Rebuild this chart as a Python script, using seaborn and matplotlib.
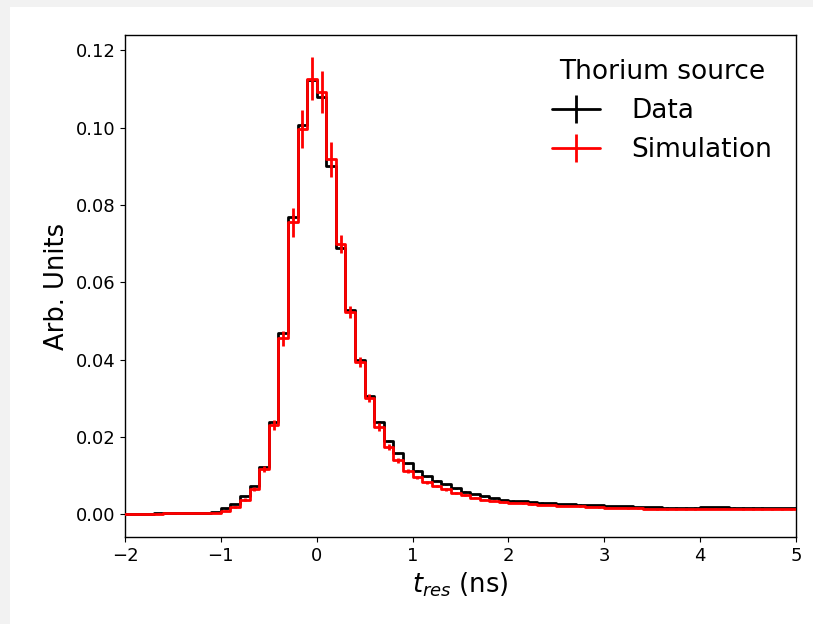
import numpy as np
import pandas as pd
import matplotlib
matplotlib.use("Agg")
import matplotlib.pyplot as plt
from matplotlib.lines import Line2D
from matplotlib.legend_handler import HandlerTuple
from matplotlib.patches import Rectangle
import seaborn as sns

# ---- data (bin centres in ns, 0.1 ns bins) ----
t_centers = [round(-2.05 + 0.1 * k, 2) for k in range(72)]

data_vals = [
    0.0001, 0.0001, 0.0001, 0.00015, 0.0002, 0.0002, 0.00025, 0.0003, 0.0003, 0.0004,
    0.0006, 0.0015, 0.0026, 0.0047, 0.0073, 0.0123, 0.0238, 0.0468, 0.0769, 0.1008,
    0.1124, 0.1080, 0.0900, 0.0689, 0.0529, 0.0399, 0.0307, 0.0238, 0.0190, 0.0158,
    0.0132, 0.0113, 0.0098, 0.0087, 0.0077, 0.0067, 0.0058, 0.0052, 0.0046, 0.0041,
    0.0037, 0.0035, 0.0033, 0.0032, 0.0030, 0.0029, 0.0027, 0.0026, 0.0025, 0.0024,
    0.0023, 0.0022, 0.0021, 0.0020, 0.0019, 0.0019, 0.0018, 0.0017, 0.0017, 0.0017,
    0.0017, 0.0018, 0.0018, 0.0018, 0.0017, 0.0017, 0.0017, 0.0017, 0.0016, 0.0016,
    0.0016, 0.0016,
]
data_errs = [
    0.00002, 0.00002, 0.00002, 0.00002, 0.00002, 0.00002, 0.00002, 0.00002, 0.00002, 0.00003,
    0.00003, 0.00005, 0.00007, 0.0001, 0.00012, 0.00015, 0.0002, 0.0003, 0.0004, 0.0005,
    0.0005, 0.0005, 0.0004, 0.0004, 0.0003, 0.0003, 0.0002, 0.0002, 0.0002, 0.00015,
    0.00015, 0.00012, 0.0001, 0.0001, 0.0001, 0.0001, 0.00008, 0.00008, 0.00007, 0.00007,
    0.00006, 0.00006, 0.00006, 0.00005, 0.00005, 0.00005, 0.00005, 0.00005, 0.00005, 0.00005,
    0.00004, 0.00004, 0.00004, 0.00004, 0.00004, 0.00004, 0.00004, 0.00004, 0.00004, 0.00004,
    0.00004, 0.00004, 0.00004, 0.00004, 0.00004, 0.00004, 0.00004, 0.00004, 0.00004, 0.00004,
    0.00004, 0.00004,
]

sim_vals = [
    0.0001, 0.0001, 0.0001, 0.0001, 0.00015, 0.0002, 0.0002, 0.00025, 0.0003, 0.0003,
    0.0003, 0.0009, 0.0019, 0.0038, 0.0065, 0.0116, 0.0231, 0.0455, 0.0755, 0.0997,
    0.1127, 0.1092, 0.0918, 0.0700, 0.0524, 0.0395, 0.0300, 0.0225, 0.0174, 0.0139,
    0.0112, 0.0095, 0.0083, 0.0073, 0.0064, 0.0055, 0.0049, 0.0043, 0.0038, 0.0035,
    0.0032, 0.0030, 0.0028, 0.0027, 0.0025, 0.0024, 0.0022, 0.0021, 0.0020, 0.0019,
    0.0018, 0.0017, 0.0016, 0.0015, 0.0015, 0.0014, 0.0013, 0.0013, 0.0013, 0.0013,
    0.0013, 0.0014, 0.0014, 0.0014, 0.0014, 0.0013, 0.0013, 0.0013, 0.0013, 0.0013,
    0.0013, 0.0013,
]
sim_errs = [
    0.00005, 0.00005, 0.00005, 0.00005, 0.00005, 0.00005, 0.00005, 0.00005, 0.00005, 0.00005,
    0.0001, 0.0002, 0.0003, 0.0005, 0.0006, 0.0008, 0.0012, 0.0020, 0.0037, 0.0050,
    0.0055, 0.0054, 0.0045, 0.0023, 0.0016, 0.0013, 0.0010, 0.0010, 0.0008, 0.0006,
    0.0005, 0.0004, 0.0004, 0.0003, 0.0003, 0.0003, 0.0003, 0.0002, 0.0002, 0.0002,
    0.0002, 0.0002, 0.0002, 0.0002, 0.0001, 0.0001, 0.0001, 0.0001, 0.0001, 0.0001,
    0.0001, 0.0001, 0.0001, 0.0001, 0.0001, 0.0001, 0.0001, 0.0001, 0.0001, 0.0001,
    0.0001, 0.0001, 0.0001, 0.0001, 0.0001, 0.0001, 0.0001, 0.0001, 0.0001, 0.0001,
    0.0001, 0.0001,
]

df = pd.DataFrame({"t": t_centers, "data": data_vals, "data_err": data_errs,
                   "sim": sim_vals, "sim_err": sim_errs})

sns.set_style("ticks", rc={
    "axes.edgecolor": "black", "text.color": "black",
    "axes.labelcolor": "black", "xtick.color": "black", "ytick.color": "black",
    "axes.linewidth": 1.0, "xtick.major.width": 1.0, "ytick.major.width": 1.0,
    "xtick.major.size": 4.5, "ytick.major.size": 4.5,
})
plt.rcParams["font.family"] = ["DejaVu Sans"]

fig = plt.figure(figsize=(8.13, 6.24), dpi=100)
fig.patch.set_facecolor("#f2f2f2")
fig.patches.append(Rectangle((10 / 813, 0), 1, 617 / 624, transform=fig.transFigure,
                             facecolor="white", edgecolor="none", zorder=-10))
ax = fig.add_axes([125 / 813, 87 / 624, 671 / 813, 502 / 624])

lw = 2.0
sns.lineplot(data=df, x="t", y="data", drawstyle="steps-mid", color="black",
             linewidth=lw, ax=ax, legend=False, errorbar=None, zorder=2)
ax.errorbar(df["t"], df["data"], yerr=df["data_err"], fmt="none",
            ecolor="black", elinewidth=lw, zorder=2)
sns.lineplot(data=df, x="t", y="sim", drawstyle="steps-mid", color="red",
             linewidth=lw, ax=ax, legend=False, errorbar=None, zorder=3)
ax.errorbar(df["t"], df["sim"], yerr=df["sim_err"], fmt="none",
            ecolor="red", elinewidth=lw, zorder=3)

ax.set_xlim(-2, 5)
ax.set_ylim(-0.0059, 0.1240)
ax.set_yticks([0.0, 0.02, 0.04, 0.06, 0.08, 0.10, 0.12])
ax.set_yticklabels(["0.00", "0.02", "0.04", "0.06", "0.08", "0.10", "0.12"])
ax.set_xticks([-2, -1, 0, 1, 2, 3, 4, 5])
ax.set_xticklabels(["\u22122", "\u22121", "0", "1", "2", "3", "4", "5"])
ax.tick_params(labelsize=13)
for s in ax.spines.values():
    s.set_visible(True)
    s.set_linewidth(1.0)

ax.set_xlabel(r"$t_{res}$ (ns)", fontsize=18.5)
ax.set_ylabel("Arb. Units", fontsize=18.5)

def proxy(c):
    return (Line2D([], [], color=c, lw=lw),
            Line2D([], [], color=c, marker="|", markersize=20, mew=lw, linestyle="None"))

leg = ax.legend([proxy("black"), proxy("red")], ["Data", "Simulation"],
                handler_map={tuple: HandlerTuple(ndivide=1)},
                title="Thorium source", loc="upper right", frameon=False,
                fontsize=19, title_fontsize=19, handlelength=1.8, handletextpad=1.2)

fig.savefig("out.png", dpi=100, facecolor=fig.get_facecolor())
